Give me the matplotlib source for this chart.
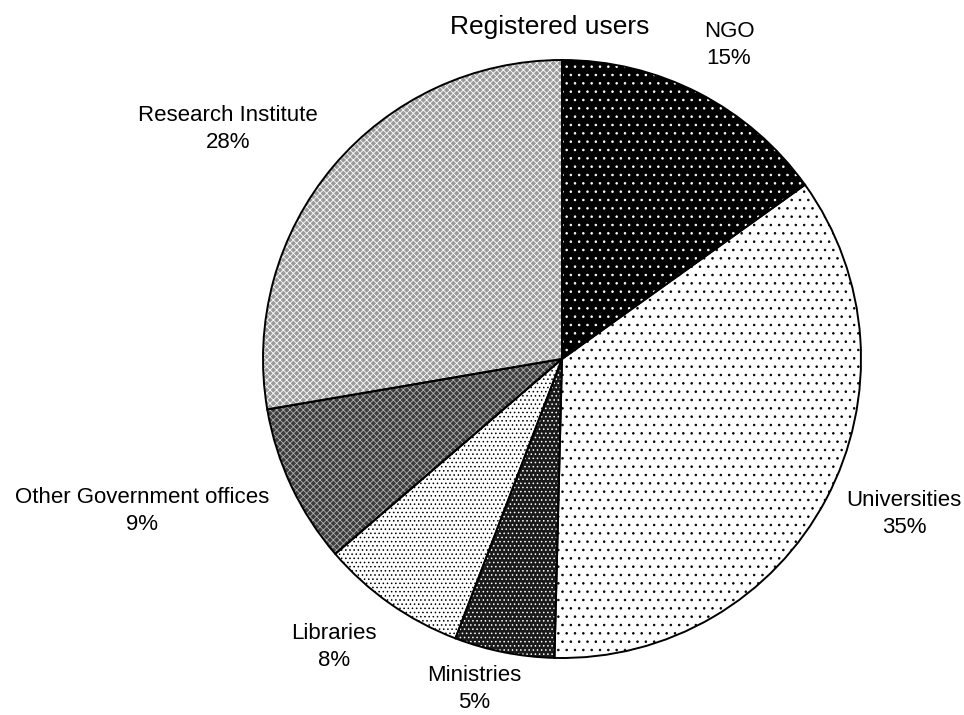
import matplotlib
matplotlib.use("Agg")
import matplotlib.pyplot as plt

# ── data (clockwise from 12 o'clock) ──────────────────────────────────────────
categories = ["NGO", "Universities", "Ministries", "Libraries",
              "Other Government offices", "Research Institute"]
shares     = [15.1, 35.3, 5.4, 7.9, 8.6, 27.7]
title      = "Registered users"

# ── style: fill / hatch / hatch colour per slice ─────────────────────────────
faces   = ["#000000", "#ffffff", "#1a1a1a", "#ffffff", "#3c3c3c", "#9a9a9a"]
hatches = ["..", "..", "....", "....", "xxxxx", "xxxxx"]
hcolors = ["#ffffff", "#000000", "#ffffff", "#000000", "#b0b0b0", "#ffffff"]

# label centres in pixels (x, y from top)
label_pos = [(729, 45), (904, 514), (474, 689), (334, 647), (142, 511), (228, 129)]

W, H = 964, 715
CX, CY, R = 562, 359, 299

plt.rcParams["font.family"] = ["Liberation Sans", "DejaVu Sans"]
plt.rcParams["hatch.linewidth"] = 0.6

fig = plt.figure(figsize=(W / 100, H / 100), dpi=100)
ax = fig.add_axes([0, 0, 1, 1])

# filled + hatched wedges (hatch colour follows edgecolor, so no outline here)
wedges, _ = ax.pie(shares, startangle=90, counterclock=False,
                   center=(CX, H - CY), radius=R,
                   wedgeprops=dict(linewidth=0))
for w, fc, hc, hc_col in zip(wedges, faces, hatches, hcolors):
    w.set_facecolor(fc)
    w.set_edgecolor(hc_col)
    w.set_hatch(hc)
    w.set_linewidth(0)

# black outlines on top
ax.pie(shares, startangle=90, counterclock=False,
       center=(CX, H - CY), radius=R,
       wedgeprops=dict(facecolor="none", edgecolor="black", linewidth=1.4))

for name, val, (px, py) in zip(categories, shares, label_pos):
    ax.text(px, H - py, f"{name}\n{val:.0f}%", ha="center", va="center",
            multialignment="center", fontsize=16, linespacing=1.35)

ax.text(550, H - 27, title, ha="center", va="center", fontsize=19)

ax.set_xlim(0, W)
ax.set_ylim(0, H)
ax.set_aspect("auto")
ax.axis("off")

fig.savefig("out.png", dpi=100)
